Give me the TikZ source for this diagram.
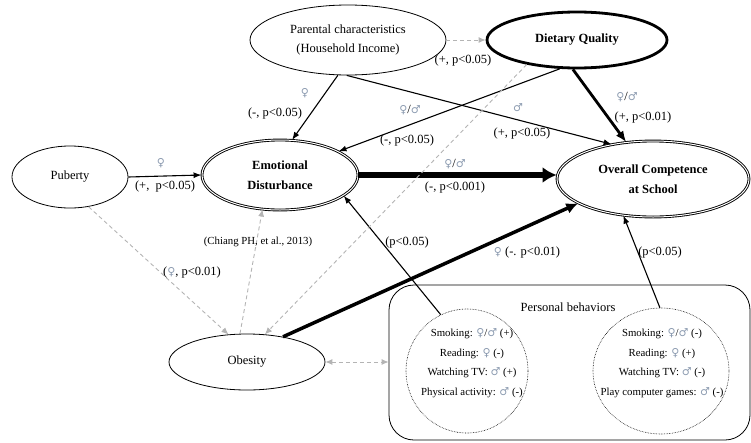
\documentclass[tikz,border=0pt]{standalone}
\usepackage{fontspec}
\setmainfont{Liberation Serif}
\newfontfamily\symfont{DejaVu Sans}
\usetikzlibrary{arrows.meta,shapes.geometric}
\definecolor{symc}{HTML}{8C9BB0}
\definecolor{dashc}{HTML}{B4B4B4}
% gender symbols
\newcommand{\fe}{{\symfont\fontsize{11}{11}\selectfont\color{symc}\char"2640}}
\newcommand{\ma}{{\symfont\fontsize{11}{11}\selectfont\color{symc}\char"2642}}
\begin{document}
\begin{tikzpicture}[x=1pt,y=-1pt,
  font=\fontsize{12.5}{19.5}\selectfont,
  oval/.style={ellipse, draw, line width=0.8pt, inner sep=0pt, align=center},
  keyoval/.style={oval, double, double distance=1pt, line width=0.9pt, font=\fontsize{12.5}{19.5}\selectfont\bfseries},
  arr/.style={draw, line width=1.1pt, -{Latex[length=8pt,width=6pt]}},
  darr/.style={draw=dashc, line width=0.9pt, dash pattern=on 4pt off 3pt, -{Latex[length=7pt,width=6pt]}},
  lab/.style={inner sep=0pt, align=center},
  small/.style={font=\fontsize{10.8}{19.5}\selectfont},
  group/.style={draw, ellipse, line width=0.6pt, dash pattern=on 0.6pt off 1pt, inner sep=0pt}
]
\useasboundingbox (0,0) rectangle (751,442);

% variables
\node[oval, minimum width=196pt, minimum height=70pt] (par) at (348,40) {Parental characteristics\\(Household Income)};
\node[oval, line width=2.8pt, minimum width=180pt, minimum height=56pt, font=\fontsize{12.5}{19.5}\selectfont\bfseries] (diet) at (577,40) {Dietary Quality};
\node[oval, minimum width=116pt, minimum height=62pt] (pub) at (70,177) {Puberty};
\node[keyoval, minimum width=156pt, minimum height=70pt] (emo) at (280,175) {Emotional\\Disturbance};
\node[keyoval, minimum width=192pt, minimum height=76pt] (ov) at (653,179) {Overall Competence\\at School};
\node[oval, minimum width=156pt, minimum height=56pt] (obes) at (247,362) {Obesity};

% personal behaviors group
\node[draw, rounded corners=25pt, line width=0.8pt, minimum width=361pt, minimum height=155pt, inner sep=0pt] (box) at (569.5,362.5) {};
\node[lab] (boxtitle) at (568,307) {Personal behaviors};
\node[group, minimum width=122pt, minimum height=124pt] (lc) at (467,371) {};
\node[group, minimum width=136pt, minimum height=126pt] (rc) at (661,371) {};
\node[lab, small] (lctext) at (472,363) {Smoking: \fe/\ma\ (+)\\Reading: \fe\ (-)\\Watching TV: \ma\ (+)\\Physical activity: \ma\ (-)};
\node[lab, small] (rctext) at (662,363) {Smoking: \fe/\ma\ (-)\\Reading: \fe\ (+)\\Watching TV: \ma\ (-)\\Play computer games: \ma\ (-)};

% paths
\draw[arr] (par.-106) -- (emo.71);
\draw[arr] (par.-92) -- (ov.140);
\draw[arr] (diet.-121) -- (emo.22);
\draw[arr, line width=2.8pt, -{Latex[length=11pt,width=9pt]}] (diet.-98) -- (ov.126);
\draw[darr] (par.east) -- (diet.west);
\draw[arr] (pub.east) -- (emo.west);
\draw[arr, line width=5.5pt, -{Latex[length=14pt,width=16pt]}] (emo.east) -- (emo.east -| ov.west);
\draw[arr, line width=3.5pt, -{Latex[length=12pt,width=11pt]}] (obes.35) -- (ov.198);
\draw[arr] (lc.115) -- (emo.-18);
\draw[arr] (rc.91) -- (ov.-129);
\draw[darr] (pub.-58) -- (obes.124);
\draw[darr] (obes.104) -- (emo.-117);
\draw[darr] (diet.-154) -- (obes.57);
\draw[darr, {Latex[length=7pt,width=6pt]}-{Latex[length=7pt,width=6pt]}] (obes.east) -- (obes.east -| box.west);

% path labels
\node[lab] (l1s) at (305,93) {\fe};
\node[lab] (l1) at (275,113) {(-, p<0.05)};
\node[lab] (l2s) at (410,110) {\fe/\ma};
\node[lab] (l2) at (407,140) {(-, p<0.05)};
\node[lab] (l3s) at (518,108) {\ma};
\node[lab] (l3) at (522,133) {(+, p<0.05)};
\node[lab] (l4s) at (627,97) {\fe/\ma};
\node[lab] (l4) at (643,117) {(+, p<0.01)};
\node[lab] (l5) at (463,60) {(+, p<0.05)};
\node[lab] (l6s) at (161,163) {\fe};
\node[lab] (l6) at (165,186) {(+, \ p<0.05)};
\node[lab] (l7s) at (455,164) {\fe/\ma};
\node[lab] (l7) at (455,187) {(-, p<0.001)};
\node[lab] (l8) at (527,252) {\fe\ (-. p<0.01)};
\node[lab] (l9) at (407,242) {(p<0.05)};
\node[lab] (l10) at (660,252) {(p<0.05)};
\node[lab, small] (l11) at (258,242) {(Chiang PH, et al., 2013)};
\node[lab] (l12) at (192,272) {(\fe, p<0.01)};
\end{tikzpicture}
\end{document}
